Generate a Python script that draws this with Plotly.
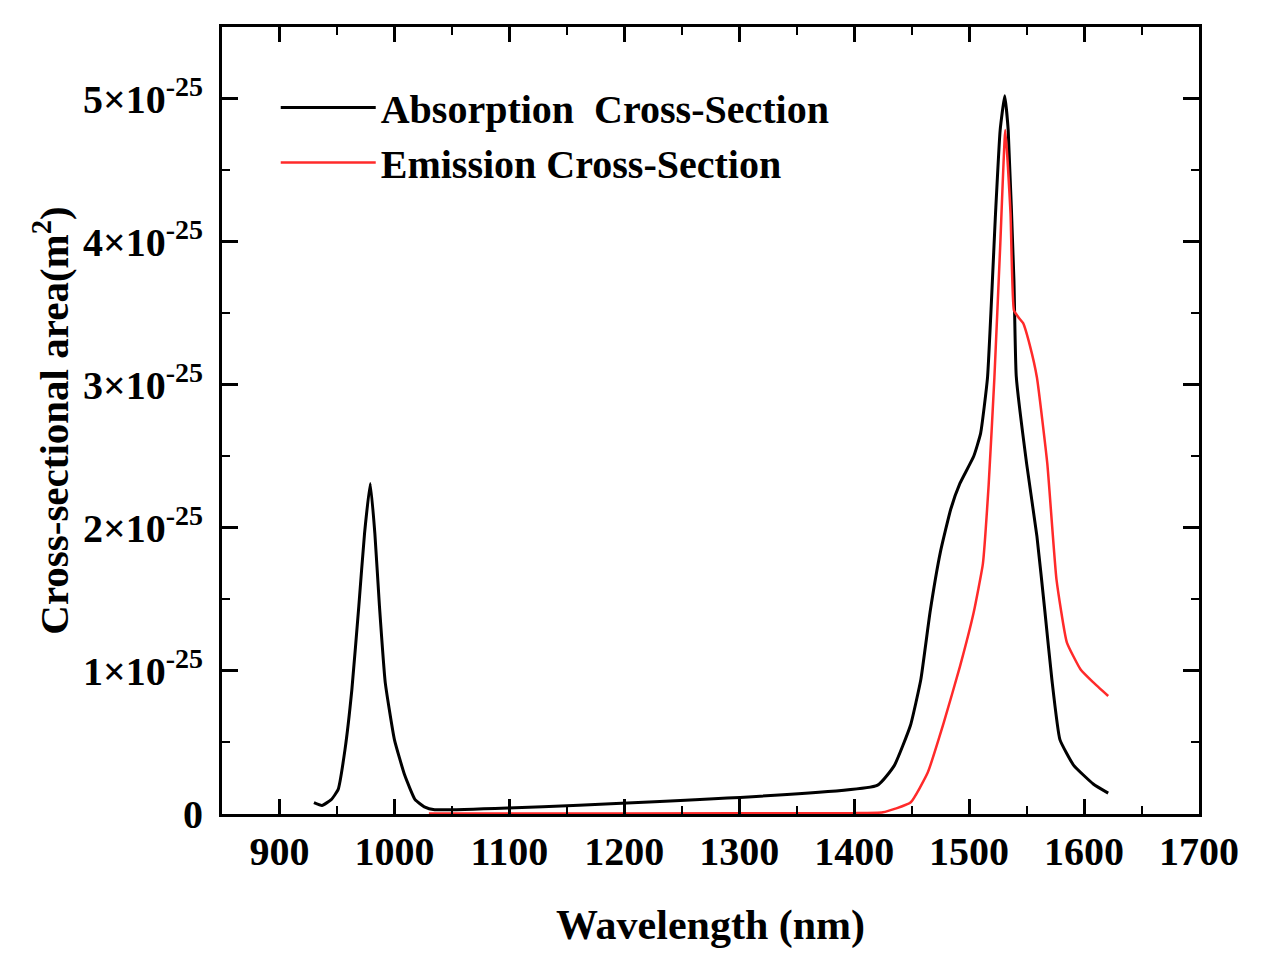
import numpy as np
import plotly.graph_objects as go

# absorption cross-section, values in units of 1e-25 m^2
abs_wl = [930, 937, 945, 951, 957, 963, 969, 974, 979, 983, 987, 992, 1000, 1009, 1018, 1026, 1035,
          1420, 1435, 1449, 1458, 1466, 1475, 1484, 1492, 1504, 1510, 1516, 1523, 1527, 1531,
          1534, 1539, 1541, 1550, 1559, 1566, 1572, 1579, 1591, 1608, 1621]
abs_val = [0.08, 0.06, 0.10, 0.17, 0.45, 0.87, 1.45, 1.96, 2.31, 1.96, 1.45, 0.92, 0.52, 0.27, 0.10, 0.05, 0.03,
           0.20, 0.34, 0.62, 0.94, 1.41, 1.83, 2.13, 2.31, 2.50, 2.66, 3.05, 4.20, 4.78, 5.02,
           4.78, 3.73, 3.06, 2.45, 1.94, 1.41, 0.94, 0.52, 0.34, 0.21, 0.146]

# emission cross-section, values in units of 1e-25 m^2
em_wl = [1030, 1200, 1399, 1425, 1449, 1464, 1478, 1492, 1504, 1512, 1517, 1522, 1527, 1531.5,
         1536, 1539, 1543, 1547, 1553, 1559, 1568, 1576, 1585, 1597, 1608, 1621]
em_val = [0.003, 0.004, 0.006, 0.012, 0.08, 0.29, 0.64, 1.03, 1.41, 1.75, 2.30, 3.05, 3.96, 4.78,
          4.20, 3.52, 3.47, 3.43, 3.27, 3.05, 2.45, 1.64, 1.20, 1.01, 0.92, 0.825]

x_ticks = [900, 1000, 1100, 1200, 1300, 1400, 1500, 1600, 1700]
y_ticks = [0, 1, 2, 3, 4, 5]
y_labels = ["0"] + [f"{k}×10<sup>-25</sup>" for k in y_ticks[1:]]

scale = 1e-25
font = dict(family="Liberation Serif", color="black", weight="bold")

fig = go.Figure()
fig.add_trace(go.Scatter(x=abs_wl, y=np.array(abs_val) * scale, mode="lines",
                         name="Absorption  Cross-Section",
                         line=dict(color="black", width=3, shape="spline", smoothing=0.4)))
fig.add_trace(go.Scatter(x=em_wl, y=np.array(em_val) * scale, mode="lines",
                         name="Emission Cross-Section",
                         line=dict(color="#ff2a2a", width=2.5, shape="spline", smoothing=0.4)))

fig.update_layout(
    width=1263, height=960,
    margin=dict(l=214, r=72, t=19, b=154),
    plot_bgcolor="white", paper_bgcolor="white",
    font=dict(size=40, **font),
    legend=dict(x=0.055, y=0.939, xanchor="left", yanchor="top", font=dict(size=40, **font),
                bgcolor="rgba(0,0,0,0)", itemwidth=95, tracegroupgap=0),
)
fig.update_xaxes(
    range=[850, 1700], tickvals=x_ticks, ticks="inside", ticklen=15, tickwidth=3, tickcolor="black",
    showline=True, linewidth=3, linecolor="black", mirror="ticks", showgrid=False, zeroline=False,
    minor=dict(ticks="inside", ticklen=8, tickwidth=2, tickcolor="black", dtick=50, showgrid=False),
    tickfont=dict(size=40, **font),
    title=dict(text="Wavelength (nm)", font=dict(size=42, **font), standoff=37),
)
fig.update_yaxes(
    range=[0, 5.5 * scale], tickvals=[v * scale for v in y_ticks], ticktext=y_labels,
    ticks="inside", ticklen=16, tickwidth=3, tickcolor="black", ticklabelstandoff=8,
    showline=True, linewidth=3, linecolor="black", mirror="ticks", showgrid=False, zeroline=False,
    minor=dict(ticks="inside", ticklen=8, tickwidth=2, tickcolor="black", dtick=0.5 * scale, showgrid=False),
    tickfont=dict(size=40, **font),
    title=dict(text="Cross-sectional area(m<sup>2</sup>)", font=dict(size=41, **font), standoff=2),
)

fig.write_html("out.html")
